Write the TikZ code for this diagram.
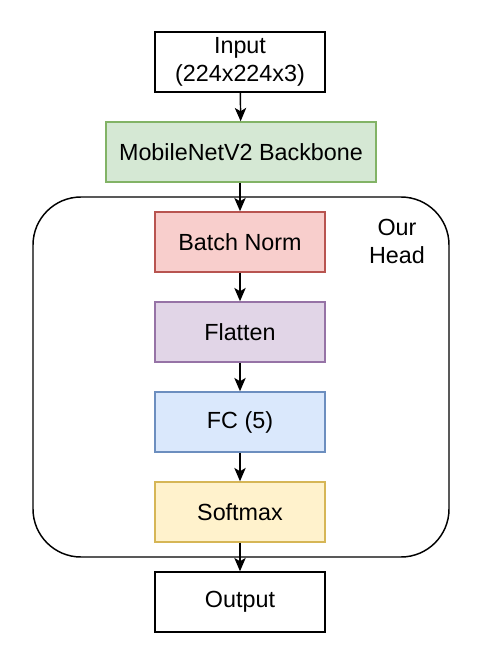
\documentclass[tikz,border=0pt]{standalone}
\usepackage{fontspec}
\setmainfont{Liberation Sans}
\usetikzlibrary{arrows.meta}
\definecolor{bbfill}{HTML}{D5E8D4}
\definecolor{bbline}{HTML}{82B366}
\definecolor{bnfill}{HTML}{F8CECC}
\definecolor{bnline}{HTML}{B85450}
\definecolor{flfill}{HTML}{E1D5E7}
\definecolor{flline}{HTML}{9673A6}
\definecolor{fcfill}{HTML}{DAE8FC}
\definecolor{fcline}{HTML}{6C8EBF}
\definecolor{smfill}{HTML}{FFF2CC}
\definecolor{smline}{HTML}{D6B656}
\tikzset{
    layer/.style={draw, line width=1.1pt, minimum width=127.5pt, minimum height=45pt, inner sep=0pt, align=center, font=\fontsize{17.5}{21}\selectfont},
    arr/.style={-{Stealth[length=10pt,width=8.5pt,inset=2.5pt]}, line width=1.1pt}
}
\begin{document}
\begin{tikzpicture}[x=0.75pt,y=-0.75pt]
\useasboundingbox (0,0) rectangle (478,660);
% the head
\draw[line width=1.1pt, rounded corners=36pt] (33,197) rectangle (449,557);
\node[align=center, font=\fontsize{17.5}{21}\selectfont] (head) at (397,241) {Our\\Head};
\node[layer] (input) at (240,62) {Input\\(224x224x3)};
\node[layer, minimum width=202.5pt, draw=bbline, fill=bbfill] (backbone) at (241,152) {MobileNetV2 Backbone};
\foreach \y/\n/\c/\t in {242/bnorm/bn/{Batch Norm}, 332/flatten/fl/{Flatten}, 422/fc/fc/{FC (5)}, 512/softmax/sm/{Softmax}}{
    \node[layer, draw=\c line, fill=\c fill] (\n) at (240,\y) {\t};
}
\node[layer] (output) at (240,602) {Output};
\draw[arr] (input) -- (backbone);
\draw[arr] (input.south |- backbone.south) -- (bnorm);
\draw[arr] (bnorm) -- (flatten);
\draw[arr] (flatten) -- (fc);
\draw[arr] (fc) -- (softmax);
\draw[arr] (softmax) -- (output);
\end{tikzpicture}
\end{document}
